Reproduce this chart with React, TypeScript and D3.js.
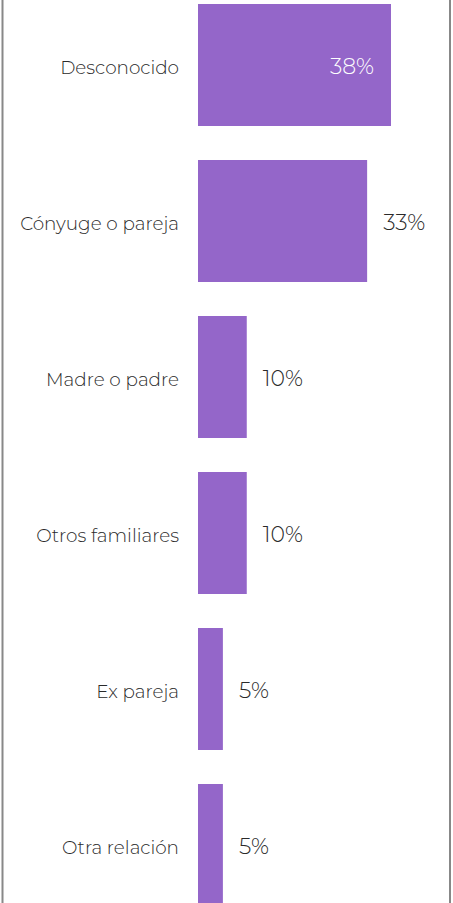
import React from "react";
import * as d3 from "d3";

const categories = [
  "Desconocido",
  "Cónyuge o pareja",
  "Madre o padre",
  "Otros familiares",
  "Ex pareja",
  "Otra relación",
];
const values = [38, 33.3, 9.6, 9.6, 4.9, 4.9];
const valueLabels = ["38%", "33%", "10%", "10%", "5%", "5%"];

const W = 453;
const H = 903;
const BAR_X = 198;
const BAR_COLOR = "#9466c9";
const FONT = "Montserrat, 'Open Sans', 'Noto Sans', sans-serif";

export default function App() {
  const x = d3.scaleLinear().domain([0, 38]).range([0, 193]);
  const y = d3
    .scaleBand<string>()
    .domain(categories)
    .range([-13, -13 + 156 * categories.length])
    .paddingInner(34 / 156)
    .paddingOuter(17 / 156);

  return (
    <svg
      width={W}
      height={H}
      style={{ position: "fixed", left: 0, top: 0, background: "#fff" }}
    >
      <line x1={2.5} x2={2.5} y1={0} y2={H} stroke="#888" strokeWidth={2} />
      <line x1={450} x2={450} y1={0} y2={H} stroke="#888" strokeWidth={2} />
      {categories.map((c, i) => {
        const yTop = y(c)!;
        const bw = x(values[i]);
        const cy = yTop + y.bandwidth() / 2;
        const inside = bw > 180;
        return (
          <g key={c}>
            <rect x={BAR_X} y={yTop} width={bw} height={y.bandwidth()} fill={BAR_COLOR} />
            <text
              x={179}
              y={cy + 2}
              textAnchor="end"
              dominantBaseline="central"
              fontFamily={FONT}
              fontWeight={300}
              fontSize={18.4}
              fill="#2a2a2a"
            >
              {c}
            </text>
            <text
              x={inside ? BAR_X + bw - 17 : BAR_X + bw + 16}
              y={cy + 1}
              textAnchor={inside ? "end" : "start"}
              dominantBaseline="central"
              fontFamily={FONT}
              fontWeight={300}
              fontSize={22}
              fill={inside ? "#fff" : "#2a2a2a"}
            >
              {valueLabels[i]}
            </text>
          </g>
        );
      })}
    </svg>
  );
}
